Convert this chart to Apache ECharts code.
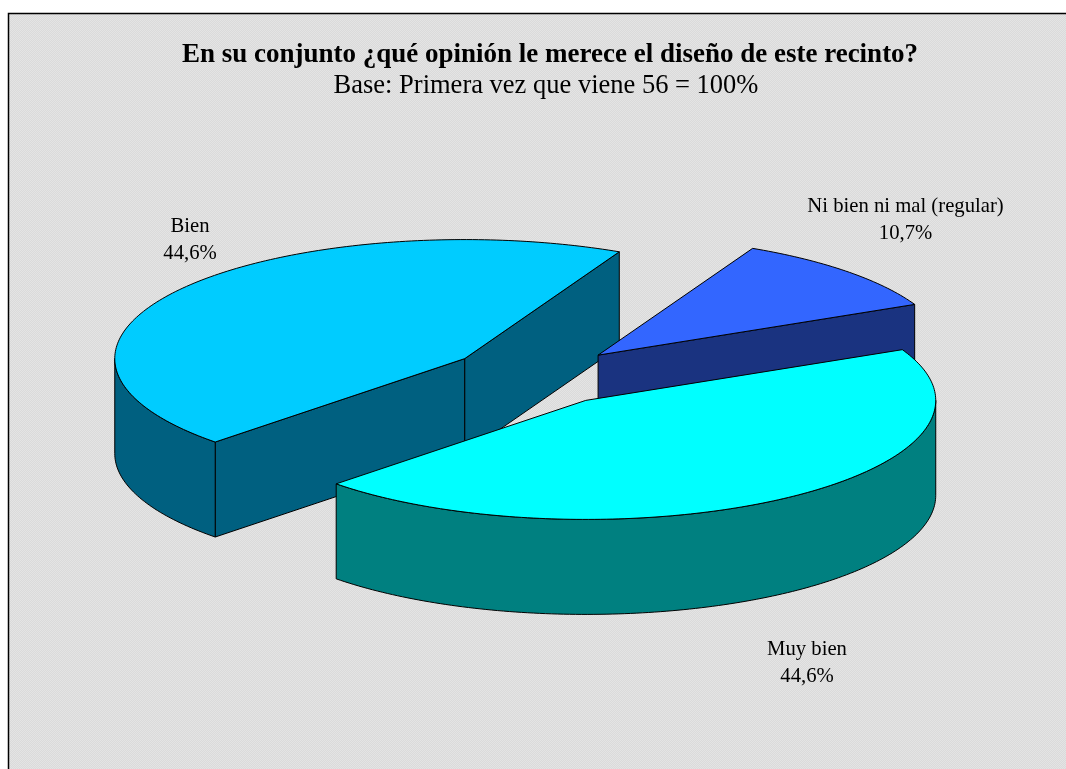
<!DOCTYPE html>
<html>
<head>
<meta charset="utf-8">
<style>html,body{margin:0;padding:0;background:#fff}#main{width:1066px;height:769px}</style>
<script src="https://cdn.jsdelivr.net/npm/echarts@6/dist/echarts.min.js"></script>
</head>
<body>
<div id="main"></div>
<script>
var categories = ['Ni bien ni mal (regular)', 'Muy bien', 'Bien'];
var percents = [10.7, 44.6, 44.6];
var topColors = ['#3366ff', '#00ffff', '#00ccff'];
var sideColors = ['#1a3380', '#008080', '#006080'];
var paintOrder = [2, 0, 1];   // de atras hacia adelante
var labelX = [905.5, 807, 190];
var labelY = [220, 663, 240];

// pie 3D de Excel: elipse + grosor + explosion
var cx = 535.7, cy = 376, rx = 350, ry = 119, depth = 95, explode = 0.25;
var startDeg = 63.8;

var total = percents.reduce(function (a, b) { return a + b; }, 0);
var slices = [];
var acc = startDeg;
percents.forEach(function (p, i) {
    var sweep = p / total * 360;
    slices[i] = { from: acc, to: acc - sweep };
    acc -= sweep;
});

function pt(c, deg, down) {
    var t = deg * Math.PI / 180;
    return [c[0] + rx * Math.cos(t), c[1] - ry * Math.sin(t) + (down || 0)];
}
function arc(c, a, b, down) {
    var pts = [], n = Math.max(2, Math.ceil(Math.abs(a - b)));
    for (var i = 0; i <= n; i++) pts.push(pt(c, a + (b - a) * i / n, down));
    return pts;
}
function poly(points, fill) {
    return { type: 'polygon', shape: { points: points }, style: { fill: fill, stroke: '#000', lineWidth: 1 } };
}

function renderSlice(params, api) {
    var i = api.value(0);
    var s = slices[i];
    var mid = (s.from + s.to) / 2 * Math.PI / 180;
    var c = [cx + explode * rx * Math.cos(mid), cy - explode * ry * Math.sin(mid)];
    var kids = [];
    var low = [c[0], c[1] + depth];

    // caras radiales que miran al observador
    if (Math.cos(s.from * Math.PI / 180) < 0) {
        kids.push(poly([c, pt(c, s.from), pt(c, s.from, depth), low], sideColors[i]));
    }
    if (Math.cos(s.to * Math.PI / 180) > 0) {
        kids.push(poly([c, pt(c, s.to), pt(c, s.to, depth), low], sideColors[i]));
    }
    // pared exterior, solo la mitad frontal de la elipse (-180 a 0)
    var a = Math.min(s.from, 0), b = Math.max(s.to, -180);
    if (a > b) {
        kids.push(poly(arc(c, a, b).concat(arc(c, b, a, depth)), sideColors[i]));
    }
    // tapa
    kids.push(poly([c].concat(arc(c, s.from, s.to)), topColors[i]));
    // etiqueta
    kids.push({
        type: 'text',
        style: {
            x: labelX[i], y: labelY[i],
            text: categories[i] + '\n' + percents[i].toFixed(1).replace('.', ',') + '%',
            fill: '#000', font: '20.7px "Liberation Serif"', lineHeight: 26.5,
            align: 'center', verticalAlign: 'middle'
        }
    });
    return { type: 'group', children: kids };
}

// fondo tramado
var tile = document.createElement('canvas');
tile.width = tile.height = 2;
var g = tile.getContext('2d');
g.fillStyle = '#dadada'; g.fillRect(0, 0, 2, 2);
g.fillStyle = '#e4e4e4'; g.fillRect(0, 0, 1, 1); g.fillRect(1, 1, 1, 1);

var myChart = echarts.init(document.getElementById('main'));
myChart.setOption({
    animation: false,
    backgroundColor: '#fff',
    title: [
        {
            text: 'En su conjunto ¿qué opinión le merece el diseño de este recinto?',
            left: 545, top: 37, textAlign: 'center',
            textStyle: { fontFamily: 'Liberation Serif', fontWeight: 'bold', fontSize: 27, color: '#000' }
        },
        {
            text: 'Base: Primera vez que viene 56 = 100%',
            left: 541, top: 68, textAlign: 'center',
            textStyle: { fontFamily: 'Liberation Serif', fontWeight: 'normal', fontSize: 26.5, color: '#000' }
        }
    ],
    graphic: [{
        type: 'rect', z: -10, silent: true,
        shape: { x: 8.5, y: 13.5, width: 1080, height: 780 },
        style: { fill: { image: tile, repeat: 'repeat' }, stroke: '#000', lineWidth: 1.5 }
    }],
    series: [{
        type: 'custom',
        coordinateSystem: 'none',
        renderItem: renderSlice,
        data: paintOrder.map(function (i) { return [i]; }),
        silent: true,
        z: 5
    }]
});
</script>
</body>
</html>
